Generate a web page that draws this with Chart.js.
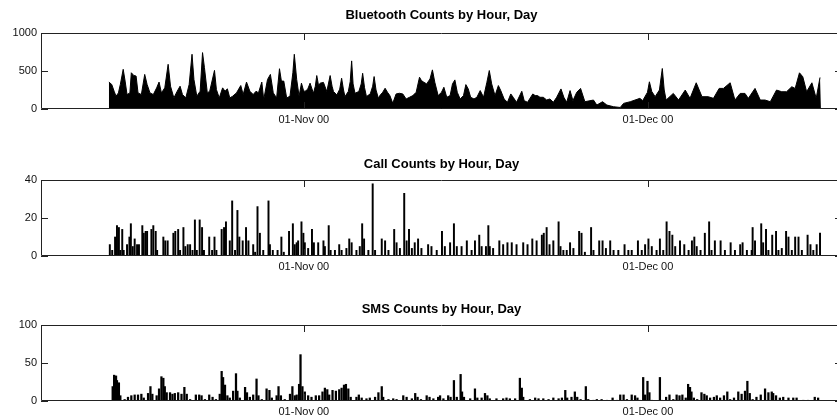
<!DOCTYPE html>
<html>
<head>
<meta charset="utf-8">
<title>Counts by Hour, Day</title>
<script src="https://cdn.jsdelivr.net/npm/chart.js@4.4.1/dist/chart.umd.min.js"></script>
<style>
  html, body { margin: 0; padding: 0; background: #fff; }
  body { width: 837px; height: 415px; overflow: hidden; position: relative; }
  canvas { position: absolute; left: 0; }
</style>
</head>
<body>
<canvas id="bt-chart" width="883" height="129" style="top:0px"></canvas>
<canvas id="call-chart" width="883" height="129" style="top:147px"></canvas>
<canvas id="sms-chart" width="883" height="129" style="top:292px"></canvas>
<script>
// all times are hours counted from 15-Oct 00:00
const xMinHour = -142;
const xMaxHour = 1534;
const xTickHours = [408, 1128];
const xTickLabels = ['01-Nov 00', '01-Dec 00'];

const btTicks = [0, 500, 1000];
const callTicks = [0, 20, 40];
const smsTicks = [0, 50, 100];

const btHours = [
  0, 6, 11, 15, 20, 24, 30, 34, 38, 44,
  47, 52, 57, 61, 68, 75, 80, 86, 93, 100,
  105, 110, 117, 124, 129, 136, 143, 149, 154, 161,
  168, 174, 178, 184, 191, 196, 200, 206, 211, 221,
  225, 231, 238, 243, 248, 253, 259, 267, 276, 281,
  288, 295, 302, 308, 313, 320, 324, 332, 338, 344,
  351, 357, 361, 366, 372, 379, 385, 388, 393, 398,
  403, 407, 410, 416, 421, 428, 432, 435, 439, 442,
  449, 456, 463, 467, 470, 477, 483, 487, 491, 494,
  501, 505, 508, 511, 515, 523, 528, 531, 535, 539,
  547, 552, 555, 559, 564,
  567, 573, 578, 583, 588, 594, 601, 608, 615, 622,
  629, 636, 643, 650, 654, 659, 665, 672, 677, 682,
  689, 696, 701, 707, 714, 719, 724, 729, 735, 742,
  747, 752, 757, 764, 770, 777, 784, 791, 796, 801,
  808, 815, 820, 827, 834, 841, 846, 853, 864, 869,
  876, 887, 892, 897, 902, 909, 916, 923, 930, 937,
  946, 952, 958, 965, 971, 979,
  987, 996, 1014, 1021, 1033, 1042, 1056, 1070, 1077, 1091,
  1111, 1117, 1127, 1131, 1136, 1143, 1152, 1158, 1162, 1166,
  1181, 1192, 1206, 1216, 1229, 1241, 1254, 1265, 1277, 1286,
  1300, 1310, 1321, 1331, 1338, 1352, 1363, 1373, 1384, 1397,
  1408, 1418, 1429, 1436, 1445, 1452, 1460, 1471, 1480, 1488,
  1490];
const btCounts = [
  354, 323, 234, 168, 212, 323, 522, 367, 190, 212,
  477, 442, 433, 212, 190, 455, 323, 212, 190, 278,
  354, 212, 278, 588, 300, 146, 234, 300, 190, 146,
  323, 720, 389, 168, 234, 742, 544, 212, 234, 508,
  256, 146, 278, 234, 265, 146, 168, 212, 309, 190,
  354, 234, 190, 234, 212, 354, 124, 389, 455, 212,
  146, 530, 367, 367, 146, 168, 477, 720, 389, 168,
  340, 250, 230, 260, 340, 207, 300, 440, 300, 340,
  350, 230, 440, 300, 230, 185, 260, 405, 250, 163,
  230, 360, 633, 330, 207, 230, 330, 470, 280, 163,
  200, 300, 427, 250, 140,
  176, 220, 273, 220, 176, 75, 198, 207, 198, 132,
  154, 176, 220, 418, 374, 352, 330, 396, 515, 352,
  176, 220, 286, 154, 176, 330, 383, 220, 132, 176,
  321, 264, 154, 132, 154, 242, 154, 352, 506, 330,
  176, 308, 242, 132, 88, 198, 154, 88, 233, 110,
  88, 198, 176, 176, 154, 154, 119, 132, 88, 154,
  264, 154, 88, 242, 110, 220,
  271, 96, 118, 52, 96, 52, 30, 20, 74, 96,
  140, 110, 220, 358, 230, 162, 250, 533, 250, 118,
  205, 118, 249, 140, 345, 162, 162, 140, 271, 271,
  345, 118, 205, 205, 140, 271, 118, 118, 96, 249,
  227, 227, 293, 270, 476, 424, 227, 345, 140, 415,
  415];

const callHours = [2, 7, 13, 17, 21, 24, 28, 31, 38, 43, 46, 50, 54, 59, 63, 70, 73, 77, 80, 89,
  93, 98, 101, 114, 118, 123, 135, 139, 145, 149, 156, 160, 165, 170, 175, 180, 184, 190, 195, 199,
  210, 216, 221, 225, 236, 241, 245, 253, 258, 264, 269, 273, 280, 287, 292, 302, 306, 311, 316, 323,
  334, 337, 343, 353, 361, 366, 377, 385, 389, 393, 396, 403, 407, 410, 417, 425, 429, 438, 449, 452,
  460, 464, 473, 482, 487, 497, 503, 508, 518, 525, 530, 534, 543, 552, 557, 571, 578, 585, 597, 602,
  609, 618, 623, 628, 634, 640, 647, 654, 668, 675, 686, 697, 703, 714, 722, 728, 738, 749, 759, 766,
  775, 780, 789, 794, 797, 804, 817, 825, 834, 843, 853, 867, 876, 886, 895, 906, 910, 916, 922, 930,
  941, 945, 951, 958, 965, 972, 984, 989, 996, 1009, 1014, 1026, 1033, 1040, 1049, 1056, 1066, 1079, 1087, 1094,
  1107, 1115, 1122, 1129, 1136, 1146, 1153, 1160, 1167, 1173, 1179, 1185, 1195, 1204, 1213, 1220, 1225, 1230, 1238, 1247,
  1256, 1261, 1268, 1280, 1289, 1301, 1310, 1321, 1326, 1335, 1345, 1347, 1352, 1365, 1369, 1375, 1380, 1388, 1396, 1401,
  1408, 1417, 1422, 1429, 1436, 1443, 1450, 1462, 1468, 1474, 1481, 1488];
const callCounts = [6, 3, 10, 16, 15, 3, 14, 3, 6, 10, 17, 5, 9, 6, 6, 16, 12, 13, 13, 14,
  16, 13, 3, 10, 8, 8, 12, 13, 14, 3, 15, 5, 6, 6, 3, 19, 3, 19, 15, 3,
  10, 3, 10, 3, 14, 15, 18, 8, 29, 3, 24, 10, 8, 15, 8, 6, 2, 26, 12, 3,
  29, 6, 3, 3, 10, 2, 13, 17, 6, 7, 8, 18, 12, 7, 4, 14, 7, 7, 8, 5,
  16, 3, 3, 6, 3, 4, 9, 7, 3, 5, 17, 9, 3, 38, 3, 9, 8, 3, 14, 7,
  4, 33, 8, 14, 4, 7, 9, 4, 6, 5, 3, 13, 5, 7, 17, 5, 5, 8, 3, 8,
  11, 5, 5, 16, 5, 4, 8, 6, 7, 7, 6, 7, 6, 9, 8, 11, 12, 15, 6, 8,
  18, 5, 3, 3, 7, 4, 13, 12, 2, 15, 3, 8, 8, 4, 8, 3, 3, 6, 3, 3,
  8, 3, 6, 9, 5, 3, 9, 3, 18, 13, 11, 5, 8, 6, 3, 8, 10, 5, 3, 12,
  18, 3, 8, 8, 3, 7, 3, 6, 7, 3, 3, 15, 8, 17, 7, 14, 3, 11, 13, 3,
  4, 13, 10, 3, 10, 10, 3, 11, 6, 3, 6, 12];

const smsHours = [8, 11, 15, 17, 21, 24, 33, 40, 47, 54, 61, 68, 73, 82, 87, 91, 100, 105, 110, 114,
  117, 121, 128, 133, 138, 145, 152, 158, 163, 170, 182, 189, 194, 201, 210, 217, 224, 232, 236, 239,
  243, 248, 253, 260, 266, 269, 274, 285, 289, 295, 302, 309, 313, 320, 330, 336, 341, 351, 355, 360,
  368, 379, 384, 389, 393, 398, 401, 405, 410, 417, 424, 433, 440, 447, 452, 457, 461, 468, 475, 482,
  487, 492, 496, 501, 506, 518, 523, 529, 539, 546, 557, 564, 571, 574, 585, 595, 602, 616, 623, 634,
  641, 646, 653, 665, 671, 679, 689, 693, 700, 710, 715, 722, 728, 736, 739, 743, 756, 766, 771, 780,
  787, 792, 797, 811, 825, 832, 839, 850, 860, 864, 867, 881, 892, 899, 909, 920, 930, 941, 948, 955,
  959, 968, 975, 980, 987, 998, 1003, 1014, 1021, 1031, 1042, 1054, 1063, 1070, 1077, 1084, 1094, 1101, 1106, 1111,
  1118, 1122, 1127, 1131, 1136, 1153, 1157, 1166, 1173, 1181, 1188, 1194, 1200, 1207, 1212, 1216, 1219, 1224, 1231, 1240,
  1246, 1251, 1258, 1266, 1272, 1279, 1287, 1294, 1300, 1308, 1317, 1324, 1331, 1336, 1341, 1347, 1355, 1364, 1373, 1380,
  1387, 1390, 1396, 1404, 1411, 1422, 1432, 1439, 1453, 1463, 1477, 1484];
const smsCounts = [19, 34, 33, 27, 24, 7, 2, 5, 7, 8, 8, 9, 4, 10, 19, 9, 7, 16, 32, 30,
  19, 11, 11, 9, 10, 11, 9, 18, 9, 2, 8, 8, 7, 2, 8, 5, 2, 9, 39, 31,
  21, 7, 4, 13, 36, 13, 4, 18, 11, 5, 8, 29, 7, 2, 16, 14, 4, 7, 19, 7,
  2, 9, 19, 7, 8, 22, 61, 19, 12, 7, 5, 7, 7, 12, 17, 15, 8, 14, 13, 15,
  17, 21, 22, 16, 5, 5, 8, 4, 3, 4, 5, 11, 19, 5, 2, 3, 2, 7, 5, 3,
  10, 5, 2, 7, 5, 3, 5, 7, 3, 7, 5, 27, 5, 35, 12, 5, 3, 16, 4, 4,
  10, 7, 3, 3, 3, 4, 3, 3, 30, 17, 5, 2, 4, 3, 3, 2, 4, 3, 4, 14,
  4, 5, 12, 5, 2, 19, 2, 1, 2, 2, 1, 4, 1, 8, 8, 2, 8, 7, 4, 1,
  31, 8, 26, 11, 1, 31, 1, 5, 8, 2, 8, 7, 8, 4, 22, 18, 12, 4, 2, 11,
  9, 7, 4, 5, 7, 4, 7, 12, 2, 4, 12, 9, 13, 26, 10, 2, 5, 8, 16, 11,
  12, 10, 7, 4, 5, 4, 4, 4, 1, 1, 5, 4];

Chart.defaults.font.family = '"Liberation Sans", Arial, Helvetica, sans-serif';
Chart.defaults.color = '#111';

// box round the plot with inward ticks on all four sides
const boxTicks = {
  id: 'boxTicks',
  afterDatasetsDraw(chart) {
    const { ctx, chartArea: a, scales: { x, y } } = chart;
    const len = 7;
    ctx.save();
    ctx.strokeStyle = '#222';
    ctx.lineWidth = 1;
    ctx.beginPath();
    ctx.rect(Math.round(a.left) + 0.5, Math.round(a.top) + 0.5,
      Math.round(a.right - a.left) - 1, Math.round(a.bottom - a.top) - 1);
    y.ticks.forEach(t => {
      const py = Math.round(y.getPixelForValue(t.value)) + 0.5;
      ctx.moveTo(a.left, py); ctx.lineTo(a.left + len, py);
      ctx.moveTo(a.right, py); ctx.lineTo(a.right - len, py);
    });
    x.ticks.forEach(t => {
      const px = Math.round(x.getPixelForValue(t.value)) + 0.5;
      ctx.moveTo(px, a.top); ctx.lineTo(px, a.top + len);
      ctx.moveTo(px, a.bottom); ctx.lineTo(px, a.bottom - len);
    });
    ctx.stroke();
    ctx.restore();
  }
};

function makePanel(id, kind, titleText, hours, counts, yTicks, titlePad, barWidth) {
  const points = hours.map((h, i) => ({ x: h, y: counts[i] }));
  const dataset = kind === 'line'
    ? { data: points, fill: 'origin', backgroundColor: '#000', borderColor: '#000',
        borderWidth: 1, pointRadius: 0, tension: 0 }
    : { data: points, backgroundColor: '#000', barThickness: barWidth };

  return new Chart(document.getElementById(id), {
    type: kind,
    data: { datasets: [dataset] },
    options: {
      responsive: false,
      animation: false,
      devicePixelRatio: 1,
      layout: { padding: 0 },
      plugins: {
        legend: { display: false },
        tooltip: { enabled: false },
        title: {
          display: true,
          text: titleText,
          color: '#000',
          font: { size: 13, weight: 'bold' },
          padding: titlePad
        }
      },
      scales: {
        x: {
          type: 'linear',
          offset: false,
          min: xMinHour,
          max: xMaxHour,
          grid: { display: false, drawTicks: false },
          border: { display: false },
          afterBuildTicks: s => { s.ticks = xTickHours.map(v => ({ value: v })); },
          afterFit: s => { s.height = 20; },
          ticks: {
            padding: 4,
            maxRotation: 0,
            autoSkip: false,
            font: { size: 11 },
            callback: v => xTickLabels[xTickHours.indexOf(v)]
          }
        },
        y: {
          min: yTicks[0],
          max: yTicks[yTicks.length - 1],
          grid: { display: false, drawTicks: false },
          border: { display: false },
          afterBuildTicks: s => { s.ticks = yTicks.map(v => ({ value: v })); },
          afterFit: s => { s.width = 41; },
          ticks: { padding: 4, font: { size: 11 }, callback: v => String(v) }
        },
        // empty right-hand strip, same width as the y axis, so the title sits over the box centre
        yRight: {
          position: 'right',
          min: 0,
          max: 1,
          grid: { display: false, drawTicks: false },
          border: { display: false },
          ticks: { display: false },
          afterFit: s => { s.width = 41; }
        }
      }
    },
    plugins: [boxTicks]
  });
}

makePanel('bt-chart', 'line', 'Bluetooth Counts by Hour, Day', btHours, btCounts, btTicks, { top: 8, bottom: 9.4 });
makePanel('call-chart', 'bar', 'Call Counts by Hour, Day', callHours, callCounts, callTicks, { top: 10, bottom: 7.4 }, 1.3);
makePanel('sms-chart', 'bar', 'SMS Counts by Hour, Day', smsHours, smsCounts, smsTicks, { top: 10, bottom: 7.4 }, 1.6);
</script>
</body>
</html>
